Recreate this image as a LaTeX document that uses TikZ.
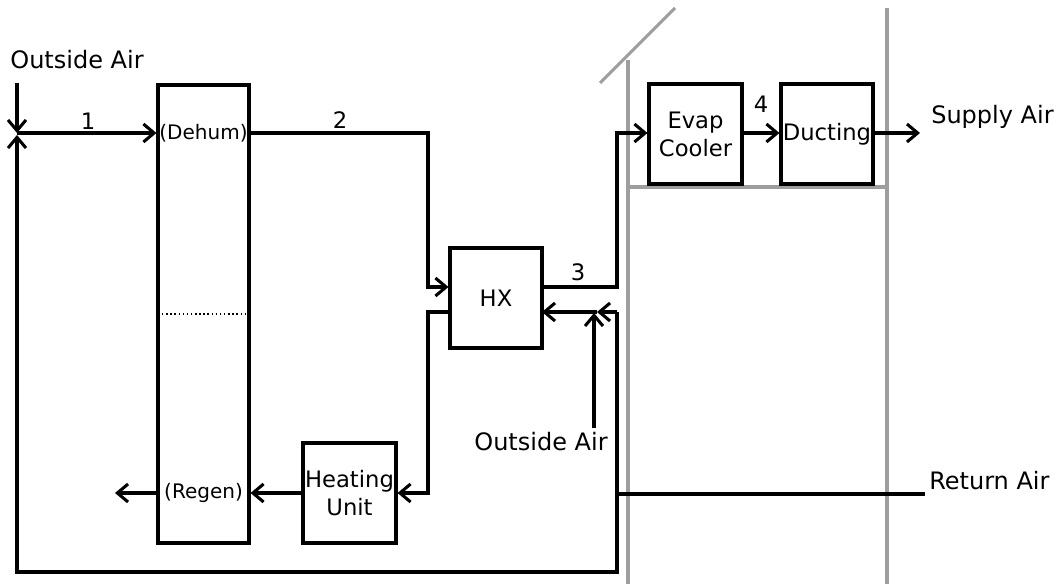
\documentclass[tikz,border=0pt]{standalone}
\usepackage{fontspec}
\setmainfont{DejaVu Sans}
\usetikzlibrary{arrows.meta,calc}
\tikzset{
  conn/.style={line width=2.3pt},
  arr/.style={conn,-{Straight Barb[length=8pt,width=13.5pt,line width=2.3pt]}},
  box/.style={draw,line width=2.3pt,inner sep=0pt,align=center,font=\fontsize{17}{21}\selectfont},
  wall/.style={draw=black!38,line width=2.35pt},
  lbl/.style={inner sep=0pt,font=\fontsize{18}{21}\selectfont},
  num/.style={inner sep=0pt,font=\fontsize{17}{21}\selectfont},
  side/.style={inner sep=0pt,font=\fontsize{15}{18}\selectfont},
}
\begin{document}
\begin{tikzpicture}[x=0.75pt,y=-0.75pt]
\useasboundingbox (0,0) rectangle (1057,584);
% house walls
\draw[wall] (628,60) -- (628,584);
\draw[wall] (600,83) -- (675,8);
\draw[wall] (887,8) -- (887,584);
\draw[wall] (628,187) -- (887,187);
% boxes
\node[box,minimum width=68.25pt,minimum height=343.5pt] (Dehum) at (203.5,314) {};
\node[side] (dehumL) at (203.5,133) {(Dehum)};
\node[side] (regenL) at (203.5,493) {(Regen)};
\draw[dotted,line width=1.1pt] (162,314) -- (246,314);
\node[box,minimum width=69pt,minimum height=75pt] (HX) at (496,298) {HX};
\node[box,minimum width=69.75pt,minimum height=75pt] (Heat) at (349.5,493) {Heating\\Unit};
\node[box,minimum width=69.75pt,minimum height=75pt] (Evap) at (695.5,134) {Evap\\Cooler};
\node[box,minimum width=69pt,minimum height=75pt] (Duct) at (827,134) {Ducting};
% texts
\node[lbl] (OA1) at (77,60) {Outside Air};
\node[lbl] (OA2) at (541,442) {Outside Air};
\node[lbl,anchor=west] (Sup) at (931,117) {Supply Air};
\node[lbl,anchor=west] (Ret) at (929,481) {Return Air};
% coordinates
\coordinate (oaTop) at (17,83);
\coordinate (oaJ) at (17,133);
\coordinate (oaJb) at (17,135);
\coordinate (rA) at (925,494);
\coordinate (rB) at (617,494);
\coordinate (rT) at (617,312);
\coordinate (rBot) at (617,572);
\coordinate (lBot) at (17,572);
\coordinate (mid) at (597,312);
\coordinate (oaUp) at (594,313);
\coordinate (oaLow) at (594,428);
\coordinate (c2) at (428,287);
\coordinate (c3) at (617,133);
\coordinate (c4) at (428,493);
\coordinate (hxLow) at (450,312);
\coordinate (hxLowR) at (542,312);
\coordinate (exit) at (115,493);
\coordinate (supE) at (920,133);
% connectors
\draw[arr] (oaTop) -- (oaJ);
\draw[arr] (oaJ) -- (Dehum.west |- oaJ);
\node[num] (n1) at (88,121) {1};
\draw[arr] (rT) -- (rBot) -- (lBot) -- (oaJb);
\draw[conn] (rA) -- (rB);
\draw[arr] (rT) -- (mid);
\draw[arr] (mid) -- (hxLowR);
\draw[arr] (oaLow) -- (oaUp);
\draw[arr] (Dehum.east |- oaJ) -| (c2) -- (HX.west |- c2);
\node[num] (n2) at (340,120) {2};
\draw[arr] (HX.east |- c2) -| (c3) -- (Evap.west |- c3);
\node[num] (n3) at (578,272) {3};
\draw[arr] (hxLow) -| (c4) -- (Heat.east);
\draw[arr] (Heat.west) -- (Heat.west -| Dehum.east);
\draw[arr] (Heat.west -| Dehum.west) -- (exit);
\draw[arr] (Evap.east |- c3) -- (Duct.west |- c3);
\node[num] (n4) at (761,104) {4};
\draw[arr] (Duct.east |- c3) -- (supE);
\end{tikzpicture}
\end{document}
